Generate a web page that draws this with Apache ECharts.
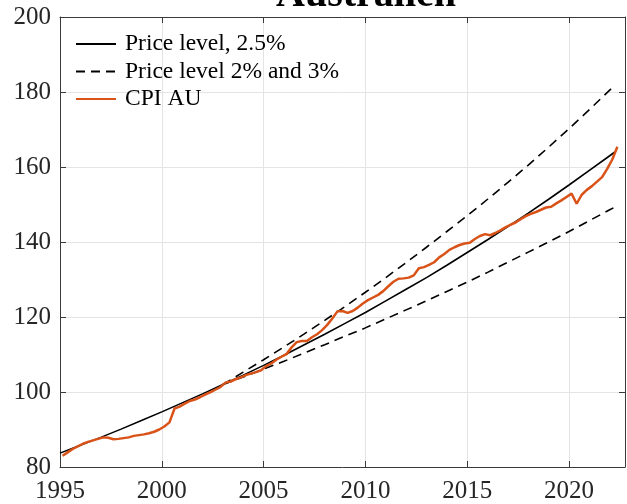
<!DOCTYPE html>
<html>
<head>
<meta charset="utf-8">
<script src="https://cdn.jsdelivr.net/npm/echarts@6/dist/echarts.min.js"></script>
<style>
  html, body { margin: 0; padding: 0; background: #fff; }
  #chart { width: 627px; height: 504px; }
</style>
</head>
<body>
<div id="chart"></div>
<script>
// yearly points of the 2.5% price level path
const priceYears = [1995, 1996, 1997, 1998, 1999, 2000, 2001, 2002, 2003, 2004,
  2005, 2006, 2007, 2008, 2009, 2010, 2011, 2012, 2013, 2014,
  2015, 2016, 2017, 2018, 2019, 2020, 2021, 2022, 2022.25];
const price25 = [83.7, 85.8, 87.9, 90.1, 92.4, 94.7, 97.1, 99.5, 102.0, 104.5,
  107.1, 109.8, 112.6, 115.4, 118.3, 121.2, 124.3, 127.4, 130.5, 133.8,
  137.2, 140.6, 144.1, 147.7, 151.4, 155.2, 159.1, 163.0, 164.0];

// 2% and 3% paths start in 2003
const bandYears = [2003, 2004, 2005, 2006, 2007, 2008, 2009, 2010, 2011, 2012,
  2013, 2014, 2015, 2016, 2017, 2018, 2019, 2020, 2021, 2022, 2022.25];
const price2 = [102.0, 104.0, 106.1, 108.2, 110.4, 112.6, 114.9, 117.1, 119.5, 121.9,
  124.3, 126.8, 129.3, 131.9, 134.6, 137.3, 140.0, 142.8, 145.7, 148.6, 149.3];
const price3 = [102.0, 105.3, 108.6, 112.0, 115.5, 119.1, 122.8, 126.6, 130.5, 134.5,
  138.6, 142.8, 147.0, 151.4, 155.9, 160.5, 165.3, 170.2, 175.3, 180.5, 181.7];

// CPI AU, quarterly from 1995 Q1 (plotted mid-quarter)
const cpiStart = 1995.125;
const cpiValues = [
  83.0, 83.9, 84.8, 85.5,
  86.2, 86.7, 87.1, 87.5,
  87.9, 87.8, 87.4, 87.5,
  87.7, 87.9, 88.3, 88.5,
  88.7, 89.0, 89.4, 90.0,
  90.8, 91.9, 95.6, 96.1,
  96.9, 97.6, 98.0, 98.6,
  99.3, 99.9, 100.6, 101.3,
  102.5, 102.8, 103.4, 103.9,
  104.5, 104.9, 105.3, 105.8,
  106.9, 107.6, 108.6, 109.4,
  110.1, 111.9, 113.3, 113.6,
  113.6, 114.6, 115.4, 116.5,
  117.9, 119.6, 121.5, 121.6,
  121.1, 121.6, 122.5, 123.6,
  124.5, 125.2, 125.9, 126.9,
  128.2, 129.4, 130.2, 130.3,
  130.5, 131.1, 133.0, 133.3,
  133.9, 134.6, 135.9, 136.8,
  137.9, 138.6, 139.2, 139.6,
  139.8, 140.8, 141.6, 142.1,
  141.8, 142.4, 143.1, 143.9,
  144.6, 145.2, 146.1, 146.9,
  147.5, 148.0, 148.6, 149.2,
  149.4, 150.3, 151.1, 152.0,
  152.9, 150.2, 152.6, 153.9,
  154.9, 156.1, 157.3, 159.5,
  162.0, 165.4
];

const xTicks = { min: 1995, max: 2022.75, interval: 5 };
const yTicks = { min: 80, max: 200, interval: 20 };

const serif = 'Liberation Serif';
const axisColor = '#3a3a3a';
const gridColor = '#e4e4e4';

const zip = (xs, ys) => xs.map((x, i) => [x, ys[i]]);
const cpiData = cpiValues.map((v, i) => [cpiStart + i / 4, v]);

const chart = echarts.init(document.getElementById('chart'), null, { renderer: 'canvas' });

const baseX = {
  type: 'value',
  min: xTicks.min,
  max: xTicks.max,
  interval: xTicks.interval,
  axisLine: { show: true, onZero: false, lineStyle: { color: axisColor, width: 1 } },
  axisTick: { show: true, inside: true, length: 6, lineStyle: { color: axisColor } },
};
const baseY = {
  type: 'value',
  min: yTicks.min,
  max: yTicks.max,
  interval: yTicks.interval,
  axisLine: { show: true, onZero: false, lineStyle: { color: axisColor, width: 1 } },
  axisTick: { show: true, inside: true, length: 6, lineStyle: { color: axisColor } },
};

const option = {
  animation: false,
  backgroundColor: '#fff',
  graphic: [{
    type: 'text',
    x: 366,
    y: 16,
    style: {
      text: 'Australien',
      fontFamily: serif,
      fontWeight: 'bold',
      fontSize: 40,
      fill: '#000',
      textAlign: 'center',
      textVerticalAlign: 'bottom'
    },
    z: 100
  }],
  grid: { left: 60, right: 2, top: 17, bottom: 37, containLabel: false },
  legend: {
    orient: 'vertical',
    left: 75,
    top: 32,
    padding: 0,
    itemWidth: 40,
    itemHeight: 24,
    itemGap: 3.5,
    itemStyle: { color: 'transparent', borderColor: 'transparent', borderWidth: 0 },
    data: ['Price level, 2.5%', 'Price level 2% and 3%', 'CPI AU'],
    textStyle: { fontFamily: serif, fontSize: 23.5, lineHeight: 24, color: '#000', padding: [0, 0, 0, 4] }
  },
  xAxis: [
    Object.assign({}, baseX, {
      position: 'bottom',
      axisLabel: {
        fontFamily: serif, fontSize: 25, color: '#262626', margin: 12,
        showMaxLabel: false,
        formatter: v => String(v)
      },
      splitLine: { show: true, lineStyle: { color: gridColor, width: 1 } }
    }),
    Object.assign({}, baseX, {
      position: 'top',
      axisLabel: { show: false },
      splitLine: { show: false }
    })
  ],
  yAxis: [
    Object.assign({}, baseY, {
      position: 'left',
      axisLabel: { fontFamily: serif, fontSize: 25, color: '#262626', margin: 9 },
      splitLine: { show: true, lineStyle: { color: gridColor, width: 1 } }
    }),
    Object.assign({}, baseY, {
      position: 'right',
      axisLabel: { show: false },
      splitLine: { show: false }
    })
  ],
  series: [
    {
      name: 'Price level, 2.5%',
      type: 'line',
      data: zip(priceYears, price25),
      showSymbol: false,
      symbol: 'none',
      lineStyle: { color: '#000', width: 1.6 },
      itemStyle: { color: '#000' }
    },
    {
      name: 'Price level 2% and 3%',
      type: 'line',
      data: zip(bandYears, price3),
      showSymbol: false,
      symbol: 'none',
      lineStyle: { color: '#000', width: 1.6, type: [9, 6] },
      itemStyle: { color: '#000' }
    },
    {
      name: 'Price level 2% and 3%',
      type: 'line',
      data: zip(bandYears, price2),
      showSymbol: false,
      symbol: 'none',
      lineStyle: { color: '#000', width: 1.6, type: [9, 6] },
      itemStyle: { color: '#000' }
    },
    {
      name: 'CPI AU',
      type: 'line',
      data: cpiData,
      showSymbol: false,
      symbol: 'none',
      lineStyle: { color: '#D95319', width: 2.5 },
      itemStyle: { color: '#D95319' }
    }
  ]
};

chart.setOption(option);
</script>
</body>
</html>
